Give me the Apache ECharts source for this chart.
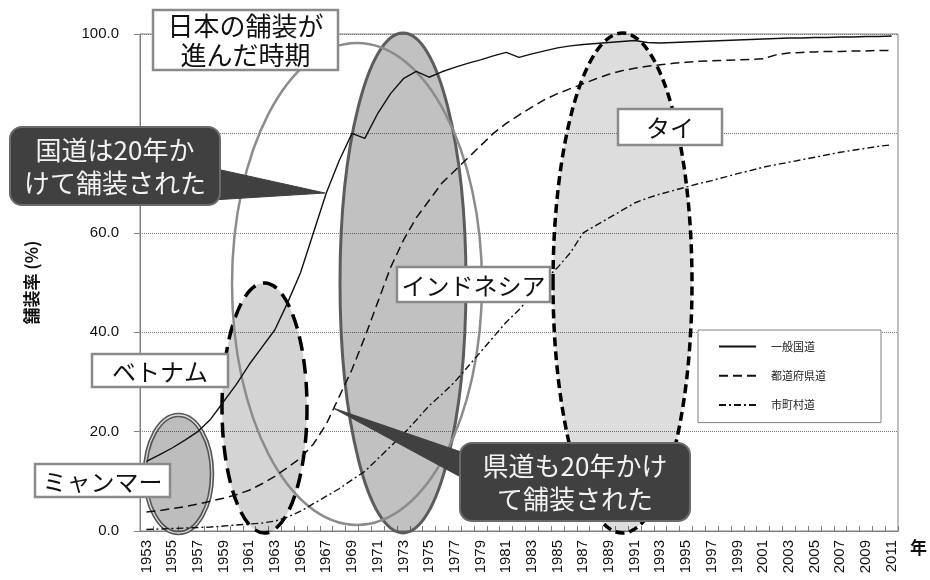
<!DOCTYPE html>
<html>
<head>
<meta charset="utf-8">
<script src="https://cdn.jsdelivr.net/npm/echarts@6/dist/echarts.min.js"></script>
<style>
  html, body { margin: 0; padding: 0; background: #fff; }
  #chart { width: 930px; height: 580px; }
</style>
</head>
<body>
<div id="chart"></div>
<script>
// Year categories (1953–2011)
const years = [
  '1953','1954','1955','1956','1957','1958','1959','1960','1961','1962',
  '1963','1964','1965','1966','1967','1968','1969','1970','1971','1972',
  '1973','1974','1975','1976','1977','1978','1979','1980','1981','1982',
  '1983','1984','1985','1986','1987','1988','1989','1990','1991','1992',
  '1993','1994','1995','1996','1997','1998','1999','2000','2001','2002',
  '2003','2004','2005','2006','2007','2008','2009','2010','2011'
];

// 一般国道 paved ratio (%)
const nationalRoads = [
  14.0, 15.3, 16.7, 18.3, 20.0, 22.5, 26.0, 29.5, 33.5, 37.0,
  40.5, 46.0, 52.0, 60.0, 68.0, 74.5, 80.0, 79.0, 84.0, 88.0,
  91.0, 92.5, 91.3, 92.4, 93.3, 94.1, 94.8, 95.6, 96.3, 95.3,
  96.0, 96.6, 97.2, 97.6, 97.9, 98.1, 98.3, 98.5, 98.7, 98.3,
  98.2, 98.3, 98.4, 98.5, 98.6, 98.7, 98.8, 98.9, 99.0, 99.1,
  99.2, 99.2, 99.3, 99.3, 99.4, 99.4, 99.5, 99.5, 99.6
];

// 都道府県道 paved ratio (%)
const prefecturalRoads = [
  3.8, 4.1, 4.5, 4.9, 5.4, 6.0, 6.6, 7.3, 8.2, 9.5,
  11.0, 12.8, 14.7, 17.5, 21.5, 27.0, 32.5, 39.0, 46.0, 53.0,
  58.5, 63.0, 66.5, 70.0, 72.5, 75.0, 77.5, 80.0, 82.0, 83.7,
  85.3, 86.8, 88.0, 89.0, 90.0, 91.0, 91.9, 92.6, 93.1, 93.5,
  93.8, 94.1, 94.3, 94.5, 94.6, 94.7, 94.8, 94.9, 95.0, 95.8,
  96.2, 96.3, 96.4, 96.5, 96.5, 96.6, 96.6, 96.7, 96.7
];

// 市町村道 paved ratio (%)
const municipalRoads = [
  0.3, 0.4, 0.5, 0.6, 0.7, 0.8, 1.0, 1.2, 1.4, 1.6,
  2.0, 2.8, 4.0, 5.5, 7.0, 8.5, 10.3, 12.0, 14.5, 17.0,
  19.5, 22.3, 25.2, 27.5, 30.0, 33.0, 36.0, 39.0, 42.0, 44.5,
  47.5, 50.5, 53.0, 56.0, 60.0, 61.5, 63.0, 64.5, 66.0, 67.0,
  67.8, 68.5, 69.2, 69.9, 70.5, 71.2, 71.9, 72.5, 73.2, 73.7,
  74.2, 74.7, 75.2, 75.7, 76.2, 76.6, 77.0, 77.4, 77.7
];

const seriesNames = ['一般国道', '都道府県道', '市町村道'];
const yAxisTitle = '舗装率 (%)';
const xAxisTitle = '年';

const JP_FONT = '"Noto Sans CJK JP", "Noto Sans", sans-serif';
const NUM_FONT = '"Liberation Sans", Arial, sans-serif';

const chart = echarts.init(document.getElementById('chart'), null, { renderer: 'canvas' });

// Period ellipses (highlighting when each country's paving progressed)
function ellipse(cx, cy, rx, ry, style, z) {
  return { type: 'ellipse', z: z, silent: true, shape: { cx, cy, rx, ry }, style };
}
// White label boxes
function labelBox(x, y, w, h, text, size) {
  return [
    { type: 'rect', z: 50, silent: true, shape: { x, y, width: w, height: h },
      style: { fill: '#fff', stroke: '#8a8a8a', lineWidth: 2.5 } },
    { type: 'text', z: 51, silent: true,
      style: { text, x: x + w / 2, y: y + h / 2 + 1, textAlign: 'center', textVerticalAlign: 'middle',
               fontSize: size, fontFamily: JP_FONT, fill: '#111', lineHeight: size + 3 } }
  ];
}
// Dark callout with a pointer triangle
function callout(x, y, w, h, pointer, text) {
  return [
    { type: 'polygon', z: 49, silent: true, shape: { points: pointer },
      style: { fill: '#404040', stroke: '#404040', lineWidth: 1 } },
    { type: 'rect', z: 50, silent: true, shape: { x, y, width: w, height: h, r: 12 },
      style: { fill: '#404040', stroke: '#6a6a6a', lineWidth: 2 } },
    { type: 'text', z: 51, silent: true,
      style: { text, x: x + w / 2, y: y + h / 2 + 1, textAlign: 'center', textVerticalAlign: 'middle',
               fontSize: 26, fontFamily: JP_FONT, fill: '#f2f2f2', lineHeight: 33 } }
  ];
}

const graphics = [
  // ミャンマー (double outline)
  ellipse(178.5, 474, 33.5, 59, { fill: 'rgba(0,0,0,0.26)', stroke: '#555', lineWidth: 4.5 }, 1),
  ellipse(178.5, 474, 33.5, 59, { fill: 'none', stroke: '#dcdcdc', lineWidth: 1.3 }, 1),
  // ベトナム
  ellipse(264.5, 408, 42.5, 125, { fill: 'rgba(0,0,0,0.17)', stroke: '#000', lineWidth: 3.5, lineDash: [15, 8] }, 1),
  // インドネシア
  ellipse(403, 283, 63, 250, { fill: 'rgba(0,0,0,0.245)', stroke: '#5c5c5c', lineWidth: 3 }, 1),
  // タイ
  ellipse(622.5, 283, 69.5, 250, { fill: 'rgba(0,0,0,0.135)', stroke: '#000', lineWidth: 3.5, lineDash: [9, 5] }, 1),
  // 日本
  ellipse(357, 284, 125, 241, { fill: 'none', stroke: '#8c8c8c', lineWidth: 2.5 }, 1),

  ...labelBox(153, 10, 185, 60, '日本の舗装が\n進んだ時期', 26),
  ...labelBox(92, 354, 136, 33, 'ベトナム', 24),
  ...labelBox(35, 464, 135, 33, 'ミャンマー', 24),
  ...labelBox(397, 267, 153, 35, 'インドネシア', 24),
  ...labelBox(618, 109, 104, 36, 'タイ', 24),

  ...callout(10, 127, 210, 78, [[212, 168], [325, 193], [212, 200]], '国道は20年か\nけて舗装された'),
  ...callout(460, 443, 230, 78, [[333, 408], [470, 455], [470, 482]], '県道も20年かけ\nて舗装された')
];

const lineBase = { type: 'line', symbol: 'none', smooth: false, z: 3, silent: true };

chart.setOption({
  animation: false,
  backgroundColor: '#fff',
  textStyle: { fontFamily: NUM_FONT },
  grid: { left: 140, right: 32, top: 34, bottom: 49, show: true, borderColor: '#808080', borderWidth: 1, containLabel: false },
  legend: {
    orient: 'vertical',
    left: 698, top: 330,
    padding: [11, 55, 12, 20],
    itemWidth: 37, itemHeight: 14, itemGap: 18,
    backgroundColor: '#fff',
    borderColor: '#808080', borderWidth: 1,
    itemStyle: { opacity: 0 },
    textStyle: { fontSize: 11, fontFamily: JP_FONT, color: '#222', padding: [3, 0, 0, 10] },
    z: 40,
    data: seriesNames
  },
  xAxis: {
    type: 'category',
    data: years,
    boundaryGap: true,
    name: xAxisTitle,
    nameLocation: 'end',
    nameGap: 12,
    nameTextStyle: { fontSize: 17, fontWeight: 'bold', fontFamily: JP_FONT, color: '#111', verticalAlign: 'top', padding: [8, 0, 0, 0] },
    axisLine: { lineStyle: { color: '#808080', width: 1 } },
    axisTick: { show: true, inside: true, length: 5, interval: 0, lineStyle: { color: '#808080' } },
    axisLabel: { rotate: 90, interval: 1, fontSize: 15, color: '#111', margin: 9, fontFamily: NUM_FONT },
    splitLine: { show: false }
  },
  yAxis: {
    type: 'value',
    min: 0, max: 100, interval: 20,
    name: yAxisTitle,
    nameLocation: 'middle',
    nameRotate: 90,
    nameGap: 100,
    nameTextStyle: { fontSize: 17, fontWeight: 'bold', fontFamily: JP_FONT, color: '#111' },
    axisLine: { show: true, lineStyle: { color: '#808080', width: 1 } },
    axisTick: { show: true, inside: false, length: 6, lineStyle: { color: '#808080' } },
    axisLabel: { formatter: v => v.toFixed(1), fontSize: 15, color: '#111', margin: 21, fontFamily: NUM_FONT },
    splitLine: { show: true, lineStyle: { color: '#7a7a7a', type: 'dotted', width: 1 } }
  },
  series: [
    Object.assign({}, lineBase, { name: seriesNames[0], data: nationalRoads,
      lineStyle: { color: '#111', width: 1.4, type: 'solid' }, itemStyle: { color: '#111' } }),
    Object.assign({}, lineBase, { name: seriesNames[1], data: prefecturalRoads,
      lineStyle: { color: '#111', width: 1.5, type: [9, 5] }, itemStyle: { color: '#111' } }),
    Object.assign({}, lineBase, { name: seriesNames[2], data: municipalRoads,
      lineStyle: { color: '#111', width: 1.4, type: [7, 3, 2, 3] }, itemStyle: { color: '#111' } })
  ],
  graphic: { elements: graphics }
});
</script>
</body>
</html>
